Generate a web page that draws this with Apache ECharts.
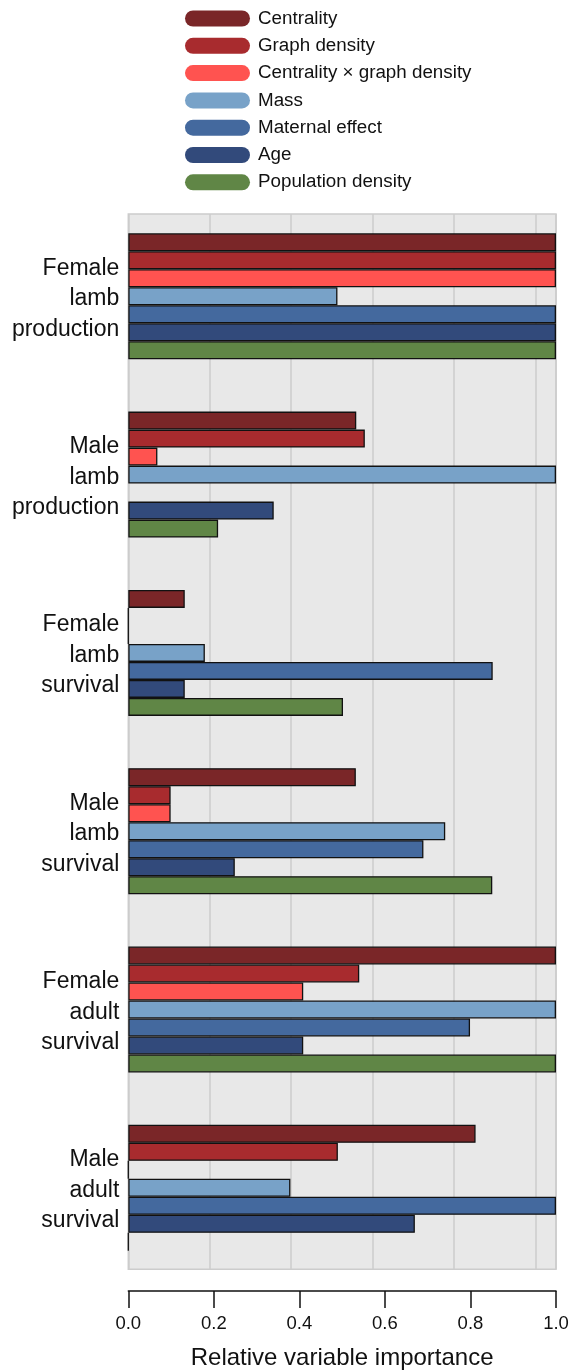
<!DOCTYPE html>
<html>
<head>
<meta charset="utf-8">
<script src="https://cdn.jsdelivr.net/npm/echarts@6/dist/echarts.min.js"></script>
<style>
  html, body { margin: 0; padding: 0; background: #ffffff; }
  #chart { width: 571px; height: 1371px; }
</style>
</head>
<body>
<div id="chart"></div>
<script>
// Response groups (top to bottom)
const categories = [
  'Female\nlamb\nproduction',
  'Male\nlamb\nproduction',
  'Female\nlamb\nsurvival',
  'Male\nlamb\nsurvival',
  'Female\nadult\nsurvival',
  'Male\nadult\nsurvival'
];

// Predictor names, in drawing order within each group
const predictors = [
  'Centrality',
  'Graph density',
  'Centrality \u00d7 graph density',
  'Mass',
  'Maternal effect',
  'Age',
  'Population density'
];

// Relative variable importance per predictor (null = not in model)
const centrality    = [1.0, 0.533, 0.132, 0.532, 1.0, 0.812];
const graphDensity  = [1.0, 0.553, 0, 0.099, 0.540, 0.490];
const interaction   = [1.0, 0.068, 0, 0.099, 0.409, 0];
const mass          = [0.489, 1.0, 0.179, 0.741, 1.0, 0.379];
const maternal      = [1.0, null, 0.852, 0.690, 0.799, 1.0];
const age           = [1.0, 0.340, 0.132, 0.249, 0.409, 0.670];
const popDensity    = [1.0, 0.210, 0.502, 0.851, 1.0, 0];

const values = [centrality, graphDensity, interaction, mass, maternal, age, popDensity];

const colors = ['#7a2628', '#a82b2e', '#ff5350', '#78a2c8', '#44699e', '#324a7b', '#608646'];

const font = 'Liberation Sans, Arial, Helvetica, sans-serif';
const pill = 'path://M8,0 L57,0 A8,8 0 0 1 57,16 L8,16 A8,8 0 0 1 8,0 Z';

const chart = echarts.init(document.getElementById('chart'), null, { renderer: 'canvas' });

const series = predictors.map((name, i) => ({
  name: name,
  type: 'bar',
  xAxisIndex: 1,
  yAxisIndex: 1,
  data: values[i],
  barWidth: 18,
  barGap: '0%',
  itemStyle: { color: colors[i], borderColor: '#111111', borderWidth: 1.3 },
  emphasis: { disabled: true },
  silent: true
}));

chart.setOption({
  animation: false,
  backgroundColor: '#ffffff',
  textStyle: { fontFamily: font },
  legend: {
    orient: 'vertical',
    left: 185,
    top: 9,
    padding: 0,
    icon: pill,
    itemWidth: 65,
    itemHeight: 16,
    itemGap: 8.3,
    itemStyle: { borderWidth: 0 },
    textStyle: { fontSize: 18.8, color: '#111111', lineHeight: 18, fontFamily: font,
      padding: [0, 0, 0, 3] },
    data: predictors,
    selectedMode: false
  },
  grid: [
    // shaded panel with guide lines
    { left: 128.3, right: 15, top: 214, height: 1055.3, show: true, containLabel: false,
      outerBoundsMode: 'none',
      backgroundColor: '#e8e8e8', borderColor: '#cccccc', borderWidth: 1.5, z: 0 },
    // bars
    { left: 128.3, right: 15, top: 207.15, height: 1069.8, containLabel: false,
      outerBoundsMode: 'none' },
    // group names, set slightly lower than the band centres
    { left: 128.3, right: 15, top: 209.9, height: 1069.8, containLabel: false,
      outerBoundsMode: 'none' }
  ],
  xAxis: [
    { gridIndex: 0, type: 'value', min: 0, max: 1.05, interval: 0.2,
      axisLine: { show: false }, axisTick: { show: false }, axisLabel: { show: false },
      splitLine: { show: true, lineStyle: { color: '#cdcdcd', width: 1.5 } } },
    { gridIndex: 1, type: 'value', min: 0, max: 1, interval: 0.2, position: 'bottom', offset: 14,
      axisLine: { show: true, lineStyle: { color: '#111111', width: 1.5 } },
      axisTick: { show: true, inside: false, length: 17, lineStyle: { color: '#111111', width: 1.5 } },
      axisLabel: { fontSize: 18.5, color: '#111111', margin: 23, fontFamily: font,
        formatter: v => v.toFixed(1) },
      splitLine: { show: false },
      name: 'Relative variable importance', nameLocation: 'middle', nameGap: 55,
      nameTextStyle: { fontSize: 24, color: '#111111', fontFamily: font } },
    { gridIndex: 2, type: 'value', min: 0, max: 1, show: false }
  ],
  yAxis: [
    { gridIndex: 0, type: 'category', data: categories, show: false },
    { gridIndex: 1, type: 'category', data: categories, inverse: true,
      axisLine: { show: false }, axisTick: { show: false }, axisLabel: { show: false } },
    { gridIndex: 2, type: 'category', data: categories, inverse: true,
      axisLine: { show: false }, axisTick: { show: false },
      axisLabel: { fontSize: 23, lineHeight: 30.5, color: '#111111', margin: 9, align: 'right',
        fontFamily: font } }
  ],
  series: series
});
</script>
</body>
</html>
